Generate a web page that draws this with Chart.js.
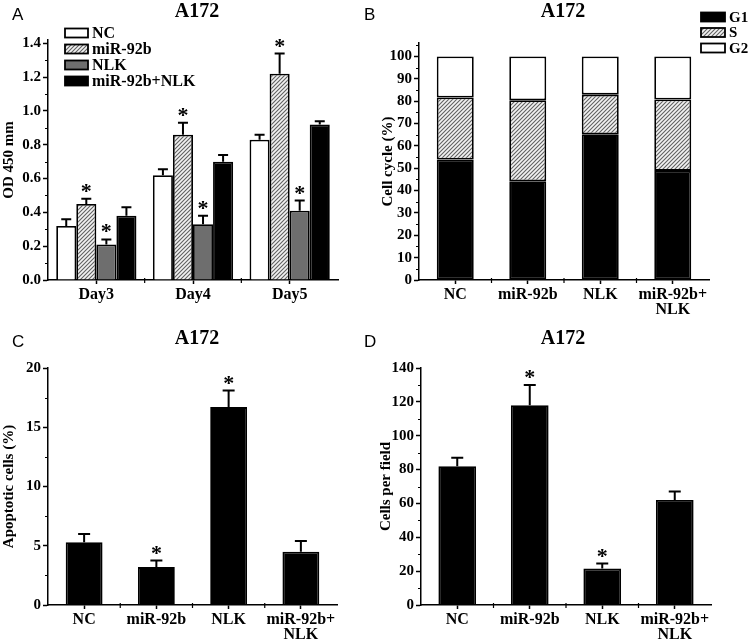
<!DOCTYPE html>
<html>
<head>
<meta charset="utf-8">
<script src="https://cdn.jsdelivr.net/npm/chart.js@4.4.1/dist/chart.umd.min.js"></script>
<style>
  body { margin: 0; background: #fff; }
  #fig { position: relative; width: 752px; height: 641px; }
  canvas { position: absolute; }
  .letter { position: absolute; font-family: "Liberation Sans", Arial, sans-serif; font-size: 17px; line-height: 1; color: #000; }
</style>
</head>
<body>
<div id="fig">
  <canvas id="chartA" width="376" height="320" style="left:0;top:0"></canvas>
  <canvas id="chartB" width="376" height="320" style="left:376px;top:0"></canvas>
  <canvas id="chartC" width="376" height="321" style="left:0;top:320px"></canvas>
  <canvas id="chartD" width="376" height="321" style="left:376px;top:320px"></canvas>
  <div class="letter" style="left:12px;top:6px">A</div>
  <div class="letter" style="left:364px;top:6px">B</div>
  <div class="letter" style="left:12px;top:333px">C</div>
  <div class="letter" style="left:364px;top:333px">D</div>
</div>
<script>
// ---- data ----
// A: OD 450
var days = ['Day3', 'Day4', 'Day5'];
var ncOd = [0.32, 0.62, 0.83];
var ncOdErr = [0.04, 0.035, 0.03];
var mirOd = [0.45, 0.86, 1.22];
var mirOdErr = [0.03, 0.07, 0.12];
var nlkOd = [0.21, 0.33, 0.41];
var nlkOdErr = [0.03, 0.05, 0.06];
var comboOd = [0.38, 0.70, 0.92];
var comboOdErr = [0.05, 0.04, 0.02];
var mirOdStars = [true, true, true];
var nlkOdStars = [true, true, true];

// B: cell cycle (%)
var groups = ['NC', 'miR-92b', 'NLK', ['miR-92b+', 'NLK']];
var g1Phase = [53.9, 44.2, 65.2, 48.8];
var sPhase = [27.7, 36.2, 17.7, 31.9];
var g2Phase = [18.4, 19.6, 17.1, 19.3];

// C: apoptotic cells (%)
var apoptotic = [5.3, 3.2, 16.7, 4.5];
var apoptoticErr = [0.7, 0.55, 1.4, 0.9];
var apoptoticStars = [false, true, true, false];

// D: cells per field
var cellsField = [82, 118, 21.5, 62];
var cellsFieldErr = [5, 12, 3, 5];
var cellsFieldStars = [false, true, true, false];

var serif = '"Liberation Serif", "Times New Roman", serif';

// hatch pattern for miR-92b / S
function makeHatch() {
  var c = document.createElement('canvas');
  c.width = 4; c.height = 4;
  var g = c.getContext('2d');
  g.fillStyle = '#f2f2f2';
  g.fillRect(0, 0, 4, 4);
  g.strokeStyle = '#606060';
  g.lineWidth = 1.1;
  g.beginPath();
  g.moveTo(0, 4); g.lineTo(4, 0);
  g.moveTo(-1, 1); g.lineTo(1, -1);
  g.moveTo(3, 5); g.lineTo(5, 3);
  g.stroke();
  return g.createPattern(c, 'repeat');
}
var hatch = makeHatch();

function isMultiple(v, step) {
  var k = v / step;
  return Math.abs(k - Math.round(k)) < 1e-6;
}

// error bars, stars, minor ticks, title and legend
function panelPlugin(p) {
  return {
    id: 'panel',
    afterDatasetsDraw: function(chart) {
      var ctx = chart.ctx;
      var ys = chart.scales.y;
      chart.data.datasets.forEach(function(ds, i) {
        if (!ds.errors) return;
        var meta = chart.getDatasetMeta(i);
        meta.data.forEach(function(bar, j) {
          var top = ys.getPixelForValue(ds.data[j] + ds.errors[j]);
          ctx.save();
          ctx.strokeStyle = '#000';
          ctx.lineWidth = 2;
          ctx.beginPath();
          ctx.moveTo(bar.x, bar.y);
          ctx.lineTo(bar.x, top);
          ctx.moveTo(bar.x - p.cap / 2, top);
          ctx.lineTo(bar.x + p.cap / 2, top);
          ctx.stroke();
          if (ds.stars && ds.stars[j]) {
            ctx.fillStyle = '#000';
            ctx.font = 'bold 22px ' + serif;
            ctx.textAlign = 'center';
            ctx.textBaseline = 'alphabetic';
            ctx.fillText('*', bar.x, top - 1);
          }
          ctx.restore();
        });
      });
    },
    afterDraw: function(chart) {
      var ctx = chart.ctx;
      var ys = chart.scales.y, xs = chart.scales.x, ca = chart.chartArea;
      ctx.save();
      ctx.strokeStyle = '#000';
      ctx.lineWidth = 1.2;
      ctx.beginPath();
      for (var n = 1; n * p.minor <= ys.max + 1e-9; n++) {
        var v = n * p.minor;
        if (isMultiple(v, p.major)) continue;
        var py = Math.round(ys.getPixelForValue(v)) + 0.5;
        ctx.moveTo(ca.left - 3, py);
        ctx.lineTo(ca.left, py);
      }
      for (var i = 0; i < xs.ticks.length - 1; i++) {
        var px = (xs.getPixelForValue(i) + xs.getPixelForValue(i + 1)) / 2;
        ctx.moveTo(px, ca.bottom - 2);
        ctx.lineTo(px, ca.bottom + 3);
      }
      ctx.stroke();

      ctx.fillStyle = '#000';
      ctx.font = 'bold 20px ' + serif;
      ctx.textAlign = 'center';
      ctx.textBaseline = 'alphabetic';
      ctx.fillText(p.title, p.titleX, p.titleY);

      if (p.legend) {
        var lg = p.legend;
        ctx.font = 'bold ' + lg.size + 'px ' + serif;
        ctx.textAlign = 'left';
        ctx.textBaseline = 'middle';
        chart.data.datasets.forEach(function(ds, k) {
          var cy = lg.top + k * lg.row;
          ctx.fillStyle = ds.backgroundColor;
          ctx.fillRect(lg.left, cy - lg.boxH / 2, lg.boxW, lg.boxH);
          ctx.lineWidth = 1.8;
          ctx.strokeStyle = '#000';
          ctx.strokeRect(lg.left, cy - lg.boxH / 2, lg.boxW, lg.boxH);
          ctx.fillStyle = '#000';
          ctx.fillText(ds.label, lg.left + lg.boxW + 4, cy + 1);
        });
      }
      ctx.restore();
    }
  };
}

function panelChart(id, o) {
  var canvas = document.getElementById(id);
  var H = canvas.height;
  return new Chart(canvas, {
    type: 'bar',
    data: { labels: o.labels, datasets: o.datasets },
    options: {
      responsive: false,
      animation: false,
      layout: { padding: { left: 0, top: o.area.top, right: 376 - o.area.right, bottom: 0 } },
      datasets: { bar: { categoryPercentage: o.catPct, barPercentage: o.barPct } },
      plugins: {
        legend: { display: false },
        tooltip: { enabled: false }
      },
      scales: {
        x: {
          stacked: !!o.stacked,
          ticks: { color: '#000', font: { family: serif, size: 16, weight: 'bold', lineHeight: 0.95 }, padding: 3, maxRotation: 0, autoSkip: false },
          grid: { display: true, drawOnChartArea: false, offset: false, tickLength: 4, tickColor: '#000', tickWidth: 1.5 },
          border: { color: '#000', width: 1.5 },
          afterFit: function(s) { s.height = H - o.area.bottom; }
        },
        y: {
          stacked: !!o.stacked,
          min: 0,
          max: o.yMax,
          ticks: {
            stepSize: o.yStep,
            includeBounds: false,
            color: '#000',
            padding: 2,
            font: { family: serif, size: 15, weight: 'bold' },
            callback: function(v) { return o.decimals ? v.toFixed(o.decimals) : Math.round(v); }
          },
          afterBuildTicks: function(s) {
            s.ticks = s.ticks.filter(function(t) { return isMultiple(t.value, o.yStep); });
          },
          grid: { display: true, drawOnChartArea: false, tickLength: 5, tickColor: '#000', tickWidth: 1.5 },
          border: { color: '#000', width: 1.5 },
          title: { display: true, text: o.yTitle, color: '#000', font: { family: serif, size: 15, weight: 'bold' }, padding: { top: o.yTitlePad, bottom: 0 } },
          afterFit: function(s) { s.width = o.area.left; }
        }
      }
    },
    plugins: [panelPlugin(o.panel)]
  });
}

// A
panelChart('chartA', {
  labels: days,
  area: { left: 48, right: 338, top: 40, bottom: 280 },
  catPct: 0.83, barPct: 1.0,
  yMax: 1.42, yStep: 0.2, decimals: 1,
  yTitle: 'OD 450 mm', yTitlePad: 0,
  datasets: [
    { label: 'NC', data: ncOd, errors: ncOdErr, backgroundColor: '#ffffff', borderColor: '#000', borderWidth: 1.8 },
    { label: 'miR-92b', data: mirOd, errors: mirOdErr, stars: mirOdStars, backgroundColor: hatch, borderColor: '#000', borderWidth: 1.8 },
    { label: 'NLK', data: nlkOd, errors: nlkOdErr, stars: nlkOdStars, backgroundColor: '#6e6e6e', borderColor: '#000', borderWidth: 1.8 },
    { label: 'miR-92b+NLK', data: comboOd, errors: comboOdErr, backgroundColor: '#000000', borderColor: '#000', borderWidth: 1.8 }
  ],
  panel: { cap: 10, minor: 0.1, major: 0.2, title: 'A172', titleX: 197, titleY: 17,
           legend: { left: 65, top: 33, row: 16, boxW: 23, boxH: 9, size: 16 } }
});

// B
panelChart('chartB', {
  labels: groups,
  stacked: true,
  area: { left: 43, right: 333, top: 43, bottom: 280 },
  catPct: 1.0, barPct: 0.51,
  yMax: 106, yStep: 10,
  yTitle: 'Cell cycle (%)', yTitlePad: 3,
  datasets: [
    { label: 'G1', data: g1Phase, backgroundColor: '#000000', borderColor: '#000', borderWidth: 1.8, borderSkipped: false },
    { label: 'S', data: sPhase, backgroundColor: hatch, borderColor: '#000', borderWidth: 1.8, borderSkipped: false },
    { label: 'G2', data: g2Phase, backgroundColor: '#ffffff', borderColor: '#000', borderWidth: 1.8, borderSkipped: false }
  ],
  panel: { cap: 0, minor: 5, major: 10, title: 'A172', titleX: 187, titleY: 17,
           legend: { left: 325, top: 17, row: 15.5, boxW: 24, boxH: 9, size: 15 } }
});

// C
panelChart('chartC', {
  labels: groups,
  area: { left: 48, right: 337, top: 48, bottom: 285 },
  catPct: 1.0, barPct: 0.51,
  yMax: 20, yStep: 5,
  yTitle: 'Apoptotic cells (%)', yTitlePad: 0,
  datasets: [
    { label: 'Apoptotic', data: apoptotic, errors: apoptoticErr, stars: apoptoticStars, backgroundColor: '#000000', borderColor: '#000', borderWidth: 1.8 }
  ],
  panel: { cap: 12, minor: 2.5, major: 5, title: 'A172', titleX: 197, titleY: 24 }
});

// D
panelChart('chartD', {
  labels: groups,
  area: { left: 45, right: 335, top: 48, bottom: 285 },
  catPct: 1.0, barPct: 0.52,
  yMax: 140, yStep: 20,
  yTitle: 'Cells per field', yTitlePad: 1,
  datasets: [
    { label: 'Cells', data: cellsField, errors: cellsFieldErr, stars: cellsFieldStars, backgroundColor: '#000000', borderColor: '#000', borderWidth: 1.8 }
  ],
  panel: { cap: 12, minor: 10, major: 20, title: 'A172', titleX: 187, titleY: 24 }
});
</script>
</body>
</html>
